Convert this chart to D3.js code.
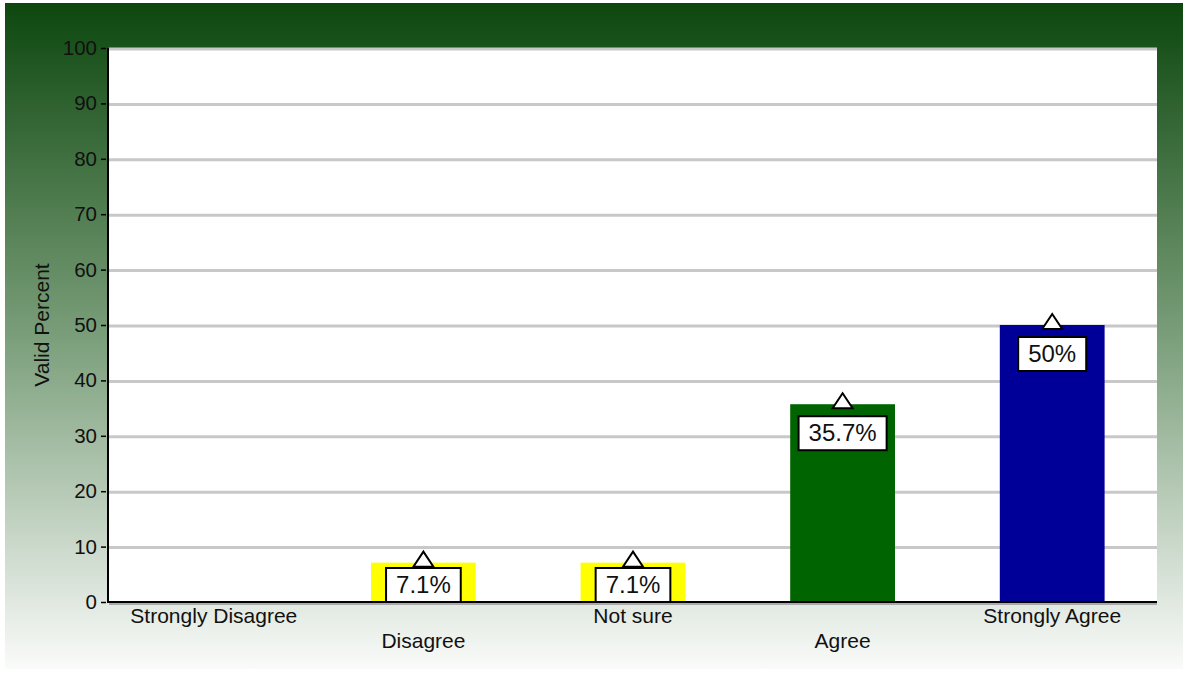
<!DOCTYPE html>
<html>
<head>
<meta charset="utf-8">
<script src="https://cdn.jsdelivr.net/npm/d3@7"></script>
<style>
  html, body { margin: 0; padding: 0; background: #ffffff; }
  svg { display: block; font-family: "Liberation Sans", Arial, sans-serif; }
</style>
</head>
<body>
<svg id="chart" width="1188" height="673"></svg>
<script>
const categories = ["Strongly Disagree", "Disagree", "Not sure", "Agree", "Strongly Agree"];
const values = [0, 7.1, 7.1, 35.7, 50];
const labels = ["", "7.1%", "7.1%", "35.7%", "50%"];
const barColors = ["#ffff00", "#ffff00", "#ffff00", "#006400", "#000099"];
const yTicks = [0, 10, 20, 30, 40, 50, 60, 70, 80, 90, 100];
const yTitle = "Valid Percent";

const svg = d3.select("#chart");
const m = { left: 109, right: 1157, top: 48, bottom: 602 };

// background gradient panel
const defs = svg.append("defs");
const grad = defs.append("linearGradient").attr("id", "bg").attr("x1", 0).attr("y1", 0).attr("x2", 0).attr("y2", 1);
grad.append("stop").attr("offset", "0%").attr("stop-color", "#0d470e");
grad.append("stop").attr("offset", "50%").attr("stop-color", "#7a9e7a");
grad.append("stop").attr("offset", "100%").attr("stop-color", "#fafbfa");
svg.append("rect").attr("x", 5).attr("y", 3).attr("width", 1178).attr("height", 666).attr("fill", "url(#bg)");

// plot area
svg.append("rect").attr("x", m.left).attr("y", m.top).attr("width", m.right - m.left).attr("height", m.bottom - m.top).attr("fill", "#ffffff");

const x = d3.scaleBand().domain(categories).range([m.left, m.right]).paddingInner(0.5).paddingOuter(0.25);
const y = d3.scaleLinear().domain([0, 100]).range([m.bottom, m.top]);

// gridlines
svg.append("g").selectAll("line").data(yTicks.filter(d => d > 0)).join("line")
  .attr("x1", m.left).attr("x2", m.right)
  .attr("y1", d => y(d) + 1).attr("y2", d => y(d) + 1)
  .attr("stroke", "#c8c8c8").attr("stroke-width", 3);

// bars
svg.append("g").selectAll("rect").data(categories).join("rect")
  .attr("x", d => x(d))
  .attr("width", x.bandwidth())
  .attr("y", (d, i) => y(values[i]))
  .attr("height", (d, i) => y(0) - y(values[i]))
  .attr("fill", (d, i) => barColors[i]);

// y axis
const yAxis = d3.axisLeft(y).tickValues(yTicks).tickSize(7).tickPadding(4);
const gy = svg.append("g").attr("transform", `translate(${m.left - 1},0)`).call(yAxis);
gy.attr("font-size", 20).attr("font-family", "Liberation Sans, Arial, sans-serif");
gy.select(".domain").attr("stroke", "#000").attr("stroke-width", 2).attr("d", `M0,${m.top}V${m.bottom}`);
gy.selectAll(".tick line").attr("stroke", "#000").attr("stroke-width", 1.5).attr("x1", -2);
gy.selectAll(".tick text").attr("font-size", 20.5).attr("fill", "#111");

// x axis
svg.append("line").attr("x1", m.left).attr("x2", m.right).attr("y1", m.bottom + 2).attr("y2", m.bottom + 2).attr("stroke", "#aaaaaa").attr("stroke-width", 2);
const xAxis = d3.axisBottom(x).tickSize(0).tickPadding(0);
const gx = svg.append("g").attr("transform", `translate(0,${m.bottom})`).call(xAxis);
gx.attr("font-size", 21).attr("font-family", "Liberation Sans, Arial, sans-serif");
gx.select(".domain").attr("stroke", "#000").attr("stroke-width", 2).attr("d", `M${m.left - 2},0H${m.right}`);
gx.selectAll(".tick text")
  .attr("font-size", 21).attr("fill", "#111")
  .attr("dy", null)
  .attr("y", (d, i) => i % 2 === 0 ? 21 : 46);

// y title
svg.append("text")
  .attr("transform", `translate(49,${(m.top + m.bottom) / 2}) rotate(-90)`)
  .attr("text-anchor", "middle")
  .attr("font-size", 21).attr("fill", "#111")
  .text(yTitle);

// value labels
const lab = svg.append("g");
categories.forEach((c, i) => {
  if (!labels[i]) return;
  const cx = x(c) + x.bandwidth() / 2;
  const top = y(values[i]);
  const boxH = 34;
  const boxTop = Math.min(top + 12, y(0) - boxH);
  const t = lab.append("text").attr("x", cx).attr("y", boxTop + 25)
    .attr("text-anchor", "middle").attr("font-size", 24).attr("fill", "#111").text(labels[i]);
  const bw = t.node().getComputedTextLength() + 20;
  lab.insert("rect", "text").attr("x", cx - bw / 2).attr("y", boxTop).attr("width", bw).attr("height", boxH)
    .attr("fill", "#fff").attr("stroke", "#000").attr("stroke-width", 2);
  lab.append("path")
    .attr("d", `M${cx},${top - 11}L${cx + 10},${top + 4}L${cx - 10},${top + 4}Z`)
    .attr("fill", "#fff").attr("stroke", "#000").attr("stroke-width", 2).attr("stroke-linejoin", "miter");
});
</script>
</body>
</html>
